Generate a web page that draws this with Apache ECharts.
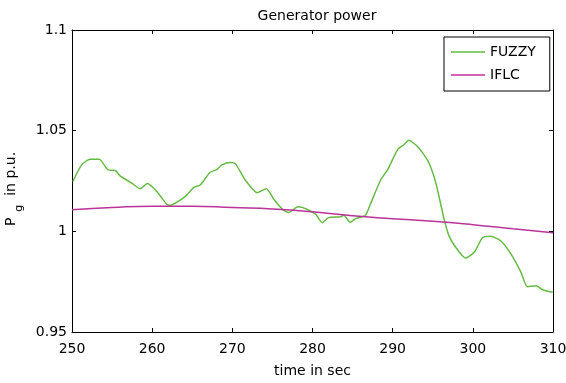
<!DOCTYPE html>
<html><head><meta charset="utf-8">
<script src="https://cdn.jsdelivr.net/npm/echarts@6/dist/echarts.min.js"></script>
<style>html,body{margin:0;padding:0;background:#fff}#c{width:566px;height:383px}</style>
</head><body><div id="c"></div>
<script>
const fuzzyT = [250.1,251.2,252.25,253.4,254.5,255.4,256,257.5,258.5,259.4,260.6,261.8,262.25,264.1,265.2,266,267.2,268.1,268.7,269.8,270.4,271.6,273.1,274.25,275.2,276.3,277,278.2,279.3,280.4,281.2,282.0,283.5,283.9,284.7,285.4,286.6,287.25,288.5,289.4,290.6,291.4,292.0,293.3,294.5,295.4,296.4,297.0,297.75,299.1,300.2,301.2,302.25,303.5,304.75,306.0,306.8,307.9,308.7,309.95];
const fuzzyV = [1.0247,1.0330,1.0358,1.0358,1.0305,1.0302,1.0275,1.0238,1.0212,1.0237,1.0197,1.0135,1.0130,1.0172,1.0218,1.0230,1.0292,1.0308,1.0330,1.0342,1.0335,1.0255,1.0192,1.0212,1.0158,1.0108,1.0093,1.0122,1.0110,1.0085,1.0043,1.0068,1.0072,1.0080,1.0045,1.0063,1.0080,1.0138,1.0255,1.0308,1.0405,1.0430,1.0452,1.0413,1.0342,1.0238,1.0063,0.9980,0.9927,0.9867,0.9897,0.9968,0.9975,0.9952,0.9888,0.9797,0.9725,0.9730,0.9710,0.9697];
const iflcT = [250,255,260,265,270,275,280,285,290,295,300,305,310];
const iflcV = [1.0107,1.0118,1.0125,1.0125,1.0118,1.0111,1.0097,1.0077,1.0063,1.0050,1.0033,1.0013,0.9993];
const xTicks = [250,260,270,280,290,300,310];
const yTicks = [0.95,1,1.05,1.1];
const font = "'DejaVu Sans', sans-serif";
const chart = echarts.init(document.getElementById('c'));
const fmtY = v => String(Math.round(v*100)/100);
const lineIcon = 'path://M0,0 L34,0 L34,1.5 L0,1.5 Z';
const common = {
  axisLine:{show:true,lineStyle:{color:'#000',width:1}},
  axisTick:{show:true,inside:true,length:4,lineStyle:{color:'#000'}},
  splitLine:{show:false}
};
chart.setOption({
  animation:false,
  title:{text:'Generator power',left:312,top:4,textAlign:'center',textStyle:{fontFamily:font,fontSize:14,fontWeight:'normal',color:'#000'}},
  legend:{
    data:[{name:'FUZZY',icon:lineIcon},{name:'IFLC',icon:lineIcon}],orient:'vertical',left:444,top:37,
    padding:[8,14,9,7],itemGap:9,itemWidth:34,itemHeight:14,
    borderColor:'#000',borderWidth:1,backgroundColor:'#fff',borderRadius:0,
    textStyle:{fontFamily:font,fontSize:14,color:'#000',lineHeight:14}
  },
  grid:{left:72,right:13,top:30,bottom:51,containLabel:false,outerBoundsMode:'none'},
  xAxis:[
    Object.assign({type:'value',min:250,max:310,interval:10,position:'bottom',
      name:'time in sec',nameLocation:'middle',nameGap:32,
      nameTextStyle:{fontFamily:font,fontSize:14,color:'#000'},
      axisLabel:{fontFamily:font,fontSize:14,color:'#000',margin:10}},common),
    Object.assign({type:'value',min:250,max:310,interval:10,position:'top',axisLabel:{show:false}},common)
  ],
  yAxis:[
    Object.assign({type:'value',min:0.95,max:1.1,interval:0.05,position:'left',
      name:'{p|P}{s|g}{p|  in p.u.}',nameLocation:'middle',nameGap:47,
      nameTextStyle:{padding:[0,16,0,0],rich:{p:{fontFamily:font,fontSize:14,color:'#000'},s:{fontFamily:font,fontSize:11,color:'#000',padding:[16,0,0,6]}}},
      axisLabel:{fontFamily:font,fontSize:14,color:'#000',margin:5,formatter:fmtY}},common),
    Object.assign({type:'value',min:0.95,max:1.1,interval:0.05,position:'right',axisLabel:{show:false}},common)
  ],
  series:[
    {name:'FUZZY',type:'line',data:fuzzyT.map((t,i)=>[t,fuzzyV[i]]),smooth:0.2,symbol:'none',
      lineStyle:{color:'#66bb44',width:1.5},itemStyle:{color:'#66bb44'}},
    {name:'IFLC',type:'line',data:iflcT.map((t,i)=>[t,iflcV[i]]),smooth:true,symbol:'none',
      lineStyle:{color:'#bb3399',width:1.5},itemStyle:{color:'#bb3399'}}
  ]
});
</script></body></html>
